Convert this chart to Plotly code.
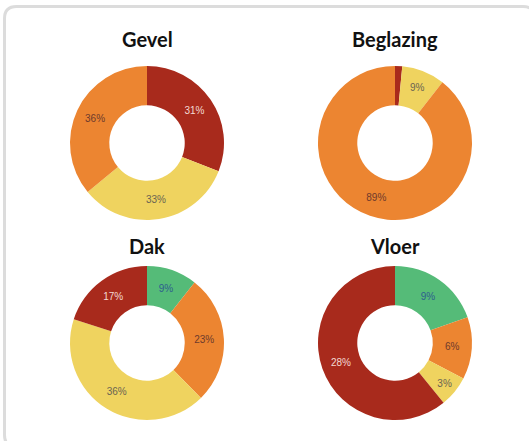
import plotly.graph_objects as go

W, H = 529, 441

titles = ["Gevel", "Beglazing", "Dak", "Vloer"]

gevel_labels = ["Slecht", "Matig", "Redelijk"]
gevel_values = [31, 33, 36]
gevel_colors = ["#A82A1C", "#EFD35F", "#EC8531"]

beglazing_labels = ["Slecht", "Matig", "Redelijk"]
beglazing_values = [1.5, 9, 89]
beglazing_colors = ["#A82A1C", "#EFD35F", "#EC8531"]

dak_labels = ["Goed", "Redelijk", "Matig", "Slecht"]
dak_values = [9, 23, 36, 17]
dak_colors = ["#55BB78", "#EC8531", "#EFD35F", "#A82A1C"]

vloer_labels = ["Goed", "Redelijk", "Matig", "Slecht"]
vloer_values = [9, 6, 3, 28]
vloer_colors = ["#55BB78", "#EC8531", "#EFD35F", "#A82A1C"]

text_color_map = {
    "#A82A1C": "#F3D9D3",
    "#EC8531": "#6E3A2C",
    "#EFD35F": "#6A6452",
    "#55BB78": "#2E5E8E",
}

# pie centres (px) and outer radius
centers = [(147, 143), (395, 143), (147, 343), (395, 343)]
R = 77

datasets = [
    (gevel_labels, gevel_values, gevel_colors),
    (beglazing_labels, beglazing_values, beglazing_colors),
    (dak_labels, dak_values, dak_colors),
    (vloer_labels, vloer_values, vloer_colors),
]

fig = go.Figure()
for (labels, values, colors), (cx, cy) in zip(datasets, centers):
    texts = [f"{v:g}%" if v >= 2 else "" for v in values]
    fig.add_trace(go.Pie(
        labels=labels,
        values=values,
        text=texts,
        textinfo="text",
        textposition="inside",
        insidetextorientation="horizontal",
        textfont=dict(family="Liberation Sans, Arial", size=10,
                      color=[text_color_map[c] for c in colors]),
        marker=dict(colors=colors, line=dict(width=0)),
        hole=0.49,
        sort=False,
        direction="clockwise",
        rotation=0,
        showlegend=False,
        domain=dict(x=[(cx - R) / W, (cx + R) / W],
                    y=[1 - (cy + R) / H, 1 - (cy - R) / H]),
    ))

title_pos = [(147, 39), (395, 39), (147, 246), (395, 246)]
for t, (tx, ty) in zip(titles, title_pos):
    fig.add_annotation(
        text=f"<b>{t}</b>", x=tx / W, y=1 - ty / H, xref="paper", yref="paper",
        showarrow=False, xanchor="center", yanchor="middle",
        font=dict(family="Lato", size=20, color="#111111", weight=900),
    )

# rounded card border (right and bottom edges run just past the page)
x0, y0, x1, y1, r = 4.5, 6.5, 535, 447, 12
def px(x):
    return x / W
def py(y):
    return 1 - y / H
path = (f"M {px(x0 + r)},{py(y0)} L {px(x1 - r)},{py(y0)} "
        f"Q {px(x1)},{py(y0)} {px(x1)},{py(y0 + r)} "
        f"L {px(x1)},{py(y1 - r)} Q {px(x1)},{py(y1)} {px(x1 - r)},{py(y1)} "
        f"L {px(x0 + r)},{py(y1)} Q {px(x0)},{py(y1)} {px(x0)},{py(y1 - r)} "
        f"L {px(x0)},{py(y0 + r)} Q {px(x0)},{py(y0)} {px(x0 + r)},{py(y0)} Z")
fig.add_shape(type="path", path=path, xref="paper", yref="paper",
              line=dict(color="#DCDCDC", width=3), layer="below")

fig.update_layout(
    width=W, height=H,
    margin=dict(l=0, r=0, t=0, b=0),
    paper_bgcolor="white",
    plot_bgcolor="white",
)

fig.write_html(
    "out.html",
    config={"displayModeBar": False},
    post_script="document.body.style.margin='0';document.body.style.overflow='hidden';",
)
